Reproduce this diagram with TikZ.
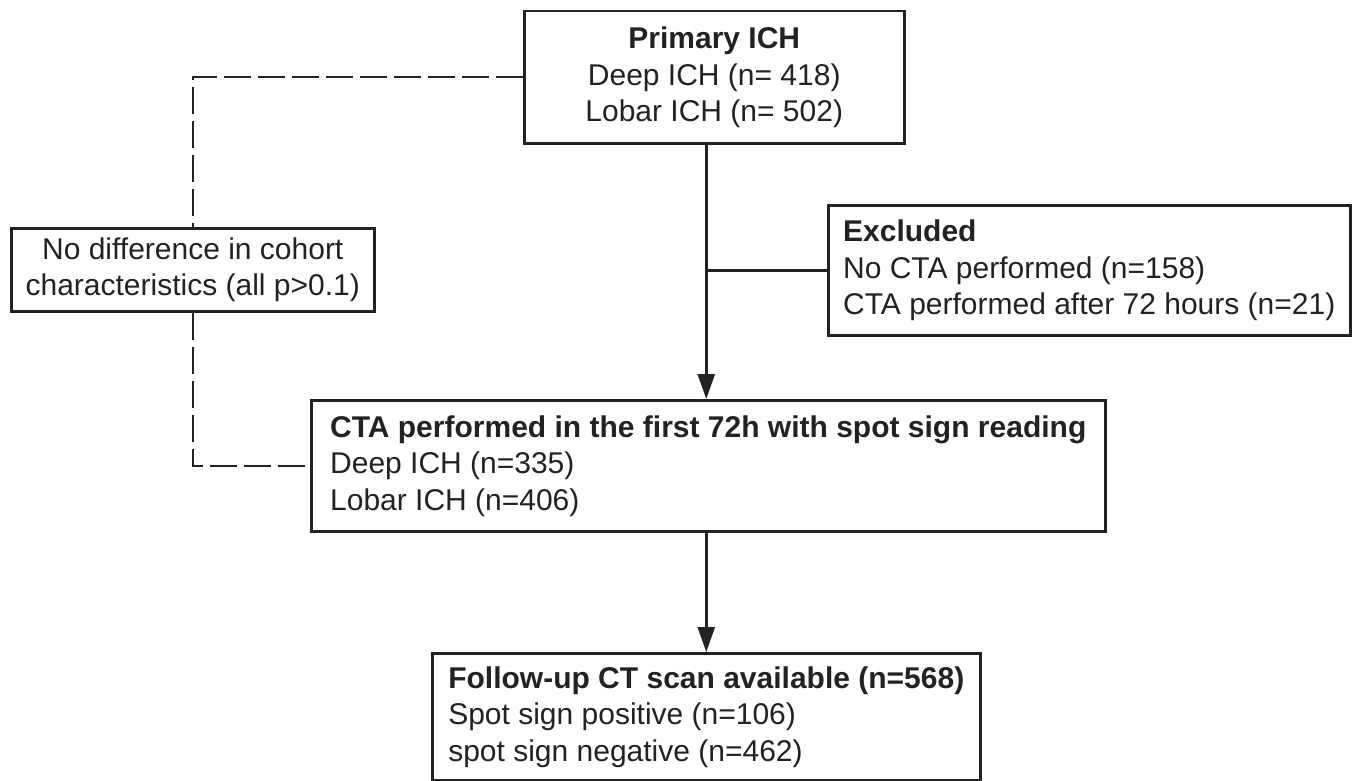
\documentclass[tikz,border=0pt]{standalone}
\usepackage{fontspec}
\setmainfont{Liberation Sans}
\usepackage{xcolor}
\usepackage{tikz}
\usetikzlibrary{arrows.meta,positioning}
\definecolor{ink}{HTML}{222222}

\begin{document}
\begin{tikzpicture}[x=1pt, y=-1pt, line width=2.5pt, color=ink,
    box/.style={draw, rectangle, anchor=north west, inner sep=0pt, font=\fontsize{30}{36.5}\selectfont},
    arr/.style={-{Triangle[length=25pt, width=17pt]}},
    dashline/.style={dash pattern=on 27pt off 7pt}]
    \useasboundingbox (0,0) rectangle (1354,781);
    \node[box, minimum width=380pt, minimum height=132pt, align=center] (prim) at (523,10)
        {\textbf{Primary ICH}\\Deep ICH (n= 418)\\Lobar ICH (n= 502)};
    \node[box, minimum width=363pt, minimum height=83pt, align=center] (nodiff) at (10,227)
        {No difference in cohort\\characteristics (all p>0.1)};
    \node[box, minimum width=522pt, minimum height=130pt, align=left] (excl) at (827,204)
        {\textbf{Excluded}\\No CTA performed (n=158)\\CTA performed after 72 hours (n=21)};
    \node[box, minimum width=794pt, minimum height=131pt, align=left] (cta) at (310,399)
        {\textbf{CTA performed in the first 72h with spot sign reading}\\Deep ICH (n=335)\\Lobar ICH (n=406)};
    \node[box, minimum width=548pt, minimum height=127pt, align=left] (follow) at (431,652)
        {\textbf{Follow-up CT scan available (n=568)}\\Spot sign positive (n=106)\\spot sign negative (n=462)};
    \coordinate (split) at (follow.north |- excl.west);
    \draw[arr] (prim.south -| split) -- (cta.north -| split);
    \draw (split) -- (excl.west);
    \draw[arr] (cta.south -| split) -- (follow.north);
    \draw[dashline] (prim.west) -| (nodiff.north);
    \draw[dashline] (nodiff.south) |- (cta.west);
\end{tikzpicture}
\end{document}
